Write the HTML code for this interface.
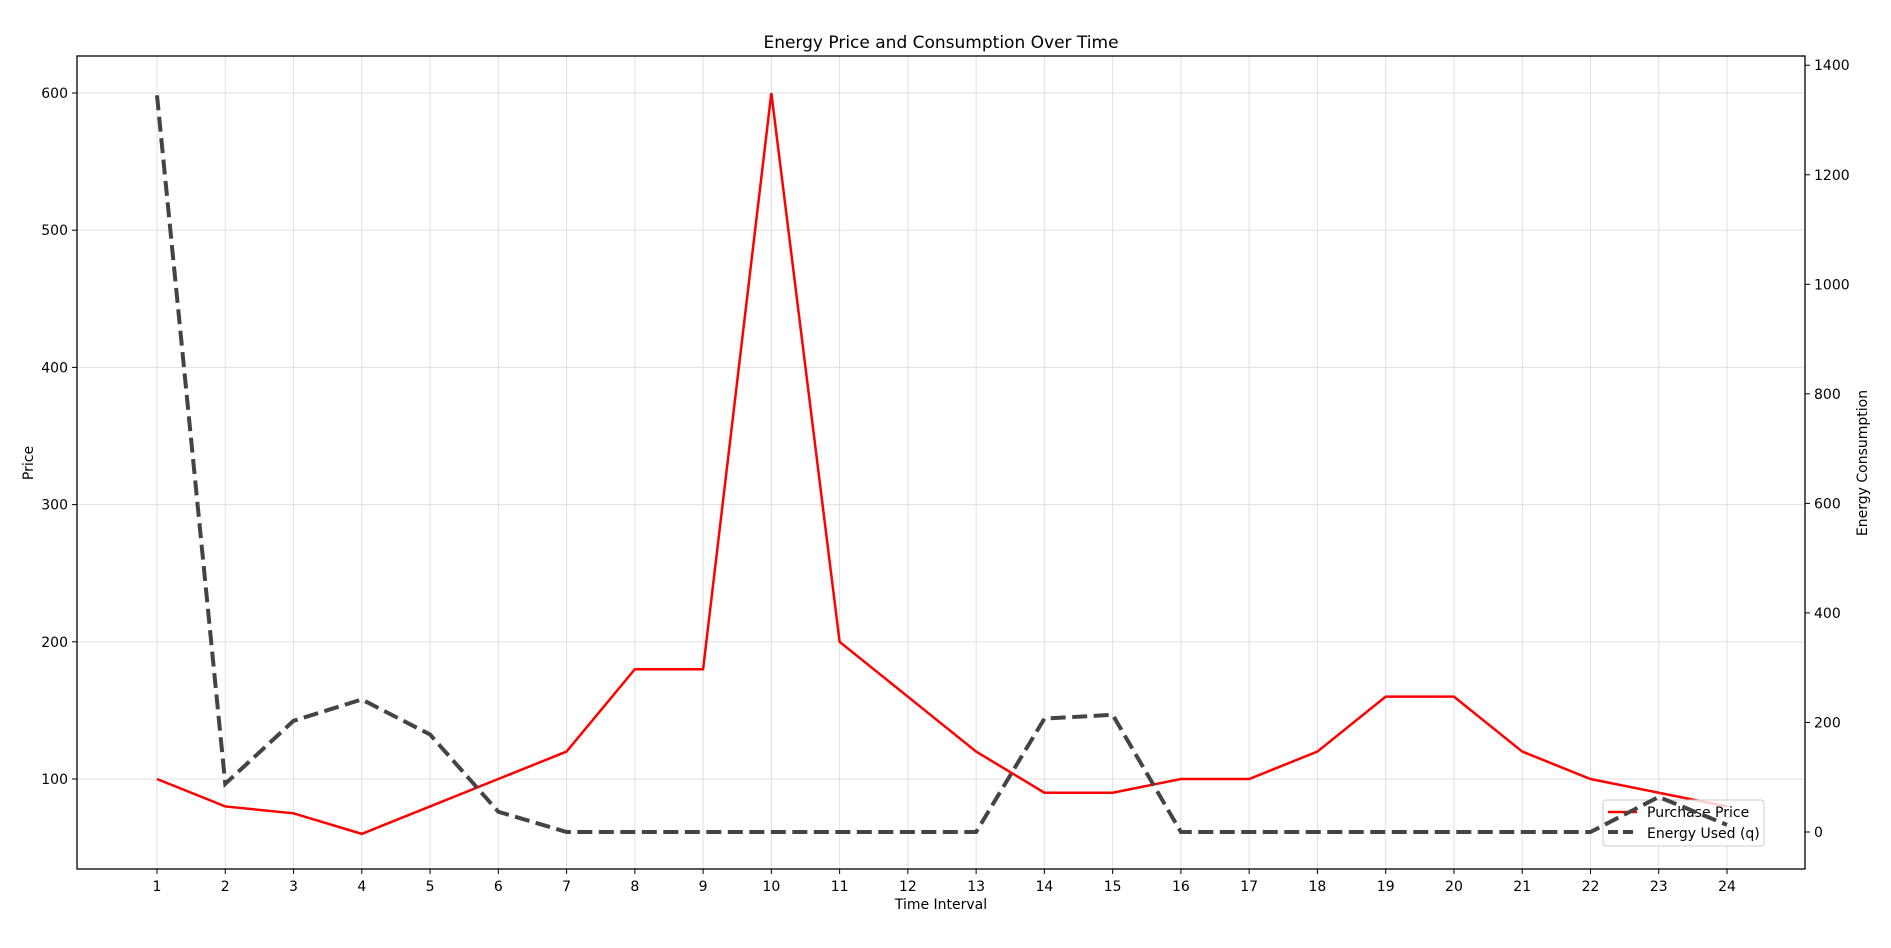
<!DOCTYPE html>
<html><head><meta charset="utf-8"><style>
body{margin:0;background:#fff}
svg text{font-family:"DejaVu Sans","Liberation Sans",sans-serif;fill:#000}
</style></head><body>
<svg id="c" width="1891" height="943"></svg>
<script>
const categories=[1,2,3,4,5,6,7,8,9,10,11,12,13,14,15,16,17,18,19,20,21,22,23,24];
const priceValues=[100,80,75,60,80,100,120,180,180,600,200,160,120,90,90,100,100,120,160,160,120,100,90,80];
const energyValues=[1345,88,203,242,178,37,0,0,0,0,0,0,0,207,214,0,0,0,0,0,0,0,64,13];
const priceTicks=[100,200,300,400,500,600];
const energyTicks=[0,200,400,600,800,1000,1200,1400];
const L=77,R=1805,T=56,B=869;
const xs=v=>157+(v-1)*(1727-157)/23;
const yp=v=>779-(v-100)*1.372;
const ye=v=>832-v*0.5477;
const svg=document.getElementById('c');
const NS='http://www.w3.org/2000/svg';
function mk(t,a,txt){const e=document.createElementNS(NS,t);for(const k in a)e.setAttribute(k,a[k]);if(txt!==undefined)e.textContent=txt;svg.appendChild(e);return e;}
let e;
categories.forEach(c=>{
 e=mk('line',{x1:xs(c),x2:xs(c),y1:T,y2:B,stroke:'#e0e0e0','stroke-width':1});
 
 
 e=mk('line',{x1:xs(c),x2:xs(c),y1:B,y2:B+5,stroke:'#000'});
 
 
 e=mk('text',{x:xs(c),y:B+22,'text-anchor':'middle','font-size':14},c);
 
 
});
priceTicks.forEach(v=>{
 e=mk('line',{x1:L,x2:R,y1:yp(v),y2:yp(v),stroke:'#e0e0e0'});
 
 
 e=mk('line',{x1:L-5,x2:L,y1:yp(v),y2:yp(v),stroke:'#000'});
 
 
 e=mk('text',{x:L-9,y:yp(v)+5,'text-anchor':'end','font-size':14},v);
 
 
});
energyTicks.forEach(v=>{
 e=mk('line',{x1:R,x2:R+5,y1:ye(v),y2:ye(v),stroke:'#000'});
 
 
 e=mk('text',{x:R+9,y:ye(v)+5,'font-size':14},v);
 
 
});
e=mk('polyline',{points:categories.map((c,i)=>xs(c)+','+yp(priceValues[i])).join(' '),fill:'none',stroke:'#ff0000','stroke-width':2.5});


e=mk('rect',{x:1603,y:800,width:161,height:46,rx:3,fill:'rgba(255,255,255,0.8)',stroke:'#ccc'});


e=mk('line',{x1:1608,x2:1637,y1:812,y2:812,stroke:'#f00','stroke-width':2.5});


e=mk('text',{x:1647,y:817,'font-size':14},'Purchase Price');


e=mk('line',{x1:1608,x2:1637,y1:832,y2:832,stroke:'#444','stroke-width':4,'stroke-dasharray':'10,5'});


e=mk('text',{x:1647,y:838,'font-size':14},'Energy Used (q)');


e=mk('polyline',{points:categories.map((c,i)=>xs(c)+','+ye(energyValues[i])).join(' '),fill:'none',stroke:'#444','stroke-width':4,'stroke-dasharray':'15,6.5'});


e=mk('rect',{x:L,y:T,width:R-L,height:B-T,fill:'none',stroke:'#000','stroke-width':1.3});


e=mk('text',{x:941,y:48,'text-anchor':'middle','font-size':17},'Energy Price and Consumption Over Time');


e=mk('text',{x:941,y:909,'text-anchor':'middle','font-size':14},'Time Interval');


e=mk('text',{x:33,y:463,'text-anchor':'middle','font-size':14,transform:'rotate(-90 33 463)'},'Price');


e=mk('text',{x:1867,y:463,'text-anchor':'middle','font-size':14,transform:'rotate(-90 1867 463)'},'Energy Consumption');


</script>
</body></html>
